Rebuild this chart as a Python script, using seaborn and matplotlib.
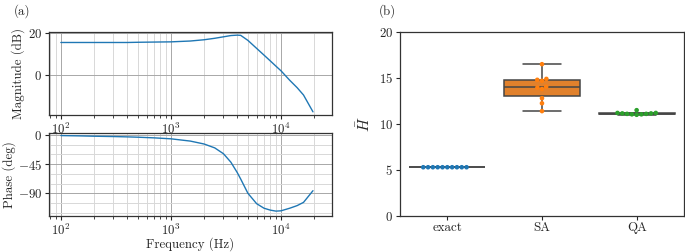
import numpy as np
import pandas as pd
import matplotlib
matplotlib.use("Agg")
import matplotlib.pyplot as plt
from matplotlib.ticker import MultipleLocator, FixedLocator
import seaborn as sns

# Bode data
freq_hz = [100, 150, 200, 300, 400, 500, 700, 1000, 1500, 2000, 2500, 3000, 3500,
           4000, 4300, 5000, 6000, 7000, 8000, 9000, 10000, 12000, 14000, 16000, 19500]
magnitude_db = [15.5, 15.5, 15.5, 15.5, 15.5, 15.6, 15.7, 15.8, 16.2, 16.8, 17.5, 18.2, 18.8,
                19.0, 18.9, 16.5, 12.7, 9.5, 6.7, 4.2, 2.0, -2.5, -6.0, -9.5, -17.5]
phase_deg = [-1, -1.5, -2, -2.5, -3, -3.5, -4.5, -6, -9.5, -14, -20, -29, -42,
             -58, -68, -90, -106, -113, -116, -117.5, -117, -113, -109, -104, -86]

# H-bar values per method
methods = ["exact", "SA", "QA"]
h_exact = [5.3] * 10
h_sa = [11.4, 12.25, 12.8, 13.8, 13.95, 14.05, 14.7, 14.8, 14.9, 16.5]
h_qa = [11.5, 11.2, 11.2, 11.15, 11.1, 11.1, 11.05, 11.05, 11.0, 11.15]

colors = ["#1f77b4", "#ff7f0e", "#2ca02c"]

sns.set_style("ticks")
plt.rcParams["font.family"] = ["cmr10", "DejaVu Serif"]
plt.rcParams["mathtext.fontset"] = "cm"
plt.rcParams["axes.formatter.use_mathtext"] = True
plt.rcParams["font.size"] = 9.3
plt.rcParams["axes.edgecolor"] = ".2"
plt.rcParams["axes.linewidth"] = 0.9
plt.rcParams["xtick.color"] = ".15"
plt.rcParams["ytick.color"] = ".15"
plt.rcParams["xtick.major.size"] = 3
plt.rcParams["ytick.major.size"] = 3
plt.rcParams["xtick.minor.size"] = 1.8
plt.rcParams["xtick.major.pad"] = 1.5
plt.rcParams["ytick.major.pad"] = 2

fig = plt.figure(figsize=(6.85, 2.52), dpi=100)
ax_mag = fig.add_axes([0.0715, 0.5437, 0.4131, 0.3294])
ax_ph = fig.add_axes([0.0715, 0.1429, 0.4131, 0.3294])
ax_box = fig.add_axes([0.5839, 0.1429, 0.4146, 0.7302])

bode = pd.DataFrame({"f": freq_hz, "mag": magnitude_db, "ph": phase_deg})

sns.lineplot(data=bode, x="f", y="mag", ax=ax_mag, color="#1f77b4", lw=1.0)
sns.lineplot(data=bode, x="f", y="ph", ax=ax_ph, color="#1f77b4", lw=1.0)

for ax in (ax_mag, ax_ph):
    ax.set_xscale("log")
    ax.set_xlim(78, 29000)
    ax.grid(True, which="major", color="#a8a8a8", lw=0.7)
    ax.grid(True, which="minor", axis="x", color="#d8d8d8", lw=0.7)
    ax.set_axisbelow(True)

ax_mag.set_ylim(-19, 20.5)
ax_mag.yaxis.set_major_locator(FixedLocator([0, 20]))
ax_mag.set_xlabel("")
ax_mag.set_ylabel("Magnitude (dB)", labelpad=2)

ax_ph.set_ylim(-125, 3)
ax_ph.yaxis.set_major_locator(FixedLocator([0, -45, -90]))
ax_ph.yaxis.set_minor_locator(MultipleLocator(15))
ax_ph.tick_params(axis="y", which="minor", length=0)
ax_ph.grid(True, which="minor", axis="y", color="#d8d8d8", lw=0.7)
ax_ph.set_xlabel("Frequency (Hz)", labelpad=0)
ax_ph.set_ylabel("Phase (deg)", labelpad=1)
fig.align_ylabels([ax_mag, ax_ph])

# box + swarm
df = pd.DataFrame({
    "method": ["exact"] * len(h_exact) + ["SA"] * len(h_sa) + ["QA"] * len(h_qa),
    "H": h_exact + h_sa + h_qa,
})
pal = dict(zip(methods, colors))
sns.boxplot(data=df, x="method", y="H", hue="method", order=methods, palette=pal,
            legend=False, showfliers=False, width=0.8, linecolor=".27",
            linewidth=1.1, ax=ax_box)
sns.swarmplot(data=df, x="method", y="H", hue="method", order=methods, palette=pal,
              legend=False, size=3.3, ax=ax_box)
ax_box.set_xlim(-0.5, 2.5)
ax_box.set_ylim(0, 20)
ax_box.yaxis.set_major_locator(MultipleLocator(5))
ax_box.set_xlabel("")
ax_box.set_ylabel(r"$\bar{H}$", fontsize=11, labelpad=4)

fig.text(0.032, 0.985, "(a)", ha="center", va="top")
fig.text(0.566, 0.985, "(b)", ha="center", va="top")

fig.savefig("out.png", dpi=100)
